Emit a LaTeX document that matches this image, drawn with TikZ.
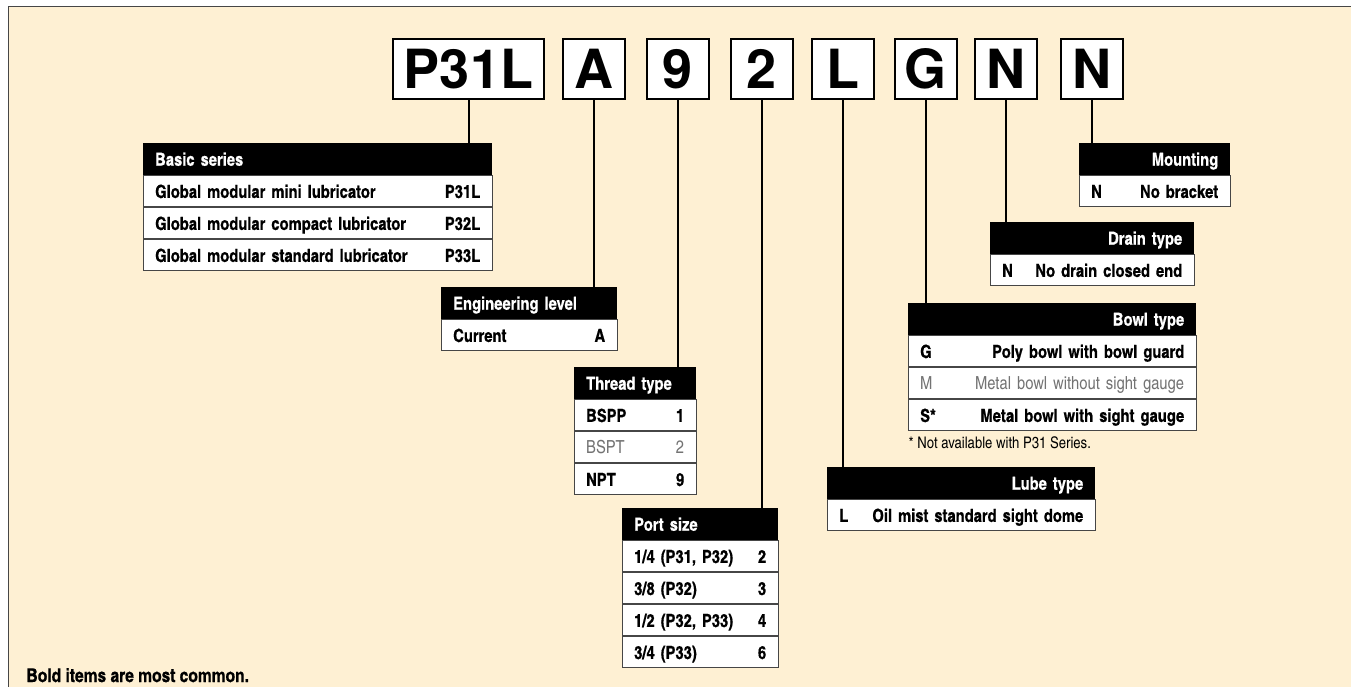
\documentclass[tikz,border=0pt]{standalone}
\usepackage{fontspec}
\setmainfont{TeX Gyre Heros}
\newfontfamily\cnfont[BoldFeatures={FakeBold=0.6}]{TeX Gyre Heros Cn}
\usetikzlibrary{positioning}
\definecolor{panel}{RGB}{254,240,211}
\definecolor{rule}{RGB}{70,70,70}
\definecolor{faint}{RGB}{115,115,115}
\begin{document}
\begin{tikzpicture}[x=1pt,y=-1pt,
    codebox/.style={draw,line width=2pt,fill=white,inner sep=0pt,
      minimum width=62pt,minimum height=60pt,
      font=\fontsize{54}{54}\selectfont\bfseries},
    link/.style={line width=2pt},
    thead/.style={fill=black,text=white,inner xsep=12pt,inner ysep=0pt,
      minimum height=32pt,text width=#1,text height=13pt,text depth=0pt,
      align=left,font=\cnfont\bfseries\fontsize{18}{21}\selectfont},
    trow/.style={draw=rule,line width=1pt,fill=white,inner xsep=12pt,
      inner ysep=0pt,minimum height=31pt,text width=#1,text height=13pt,
      text depth=0pt,align=left,font=\cnfont\bfseries\fontsize{18}{21}\selectfont},
    minor/.style={text=faint,font=\cnfont\fontsize{18}{21}\selectfont}]
    \useasboundingbox (0,0) rectangle (1351,687);
    \fill[white] (0,0) rectangle (1351,687);
    \fill[panel] (8,7) rectangle (1351,687);
    \draw[rule,line width=1pt] (8,687) -- (8,7) -- (1351,7);
    % order code
    \node[codebox,minimum width=151pt] (cP) at (468.5,69) {P31L};
    \node[codebox] (cA) at (594,69) {A};
    \node[codebox] (c9) at (678,69) {9};
    \node[codebox] (c2) at (762,69) {2};
    \node[codebox] (cL) at (843,69) {L};
    \node[codebox] (cG) at (925.5,69) {G};
    \node[codebox] (cD) at (1006,69) {N};
    \node[codebox] (cM) at (1092,69) {N};
    % left tables
    \node[thead=325pt,anchor=north west] (basic) at (143,143) {Basic series};
    \node[trow=325pt,below=0pt of basic] (basic1)
        {Global modular mini lubricator\hfill P31L};
    \node[trow=325pt,below=0pt of basic1] (basic2)
        {Global modular compact lubricator\hfill P32L};
    \node[trow=325pt,below=0pt of basic2] (basic3)
        {Global modular standard lubricator\hfill P33L};
    \node[thead=152pt,anchor=north west] (eng) at (441,287) {Engineering level};
    \node[trow=152pt,below=0pt of eng] (eng1) {Current\hfill A};
    \node[thead=98pt,anchor=north west] (thread) at (574,367) {Thread type};
    \node[trow=98pt,below=0pt of thread] (thread1) {BSPP\hfill 1};
    \node[trow=98pt,minor,below=0pt of thread1] (thread2) {BSPT\hfill 2};
    \node[trow=98pt,below=0pt of thread2] (thread3) {NPT\hfill 9};
    \node[thead=132pt,anchor=north west] (port) at (622,508) {Port size};
    \node[trow=132pt,below=0pt of port] (port1) {1/4 (P31, P32)\hfill 2};
    \node[trow=132pt,below=0pt of port1] (port2) {3/8 (P32)\hfill 3};
    \node[trow=132pt,below=0pt of port2] (port3) {1/2 (P32, P33)\hfill 4};
    \node[trow=132pt,below=0pt of port3] (port4) {3/4 (P33)\hfill 6};
    % right tables
    \node[thead=244pt,align=right,anchor=north west] (lube) at (827,467) {Lube type};
    \node[trow=244pt,below=0pt of lube] (lube1)
        {L\hfill Oil mist standard sight dome};
    \node[thead=264pt,align=right,anchor=north west] (bowl) at (908,303) {Bowl type};
    \node[trow=264pt,below=0pt of bowl] (bowl1) {G\hfill Poly bowl with bowl guard};
    \node[trow=264pt,minor,below=0pt of bowl1] (bowl2)
        {M\hfill Metal bowl without sight gauge};
    \node[trow=264pt,below=0pt of bowl2] (bowl3) {S*\hfill Metal bowl with sight gauge};
    \node[anchor=west,font=\cnfont\fontsize{16}{18}\selectfont] (star) at (905,443)
        {* Not available with P31 Series.};
    \node[thead=180pt,align=right,anchor=north west] (drain) at (990,222) {Drain type};
    \node[trow=180pt,below=0pt of drain] (drain1) {N\hfill No drain closed end};
    \node[thead=127pt,align=right,anchor=north west] (mount) at (1079,143) {Mounting};
    \node[trow=127pt,below=0pt of mount] (mount1) {N\hfill No bracket};
    % connectors
    \draw[link] (cP.south) -- (cP.south |- basic.north);
    \draw[link] (cA.south) -- (cA.south |- eng.north);
    \draw[link] (c9.south) -- (c9.south |- thread.north);
    \draw[link] (c2.south) -- (c2.south |- port.north);
    \draw[link] (cL.south) -- (cL.south |- lube.north);
    \draw[link] (cG.south) -- (cG.south |- bowl.north);
    \draw[link] (cD.south) -- (cD.south |- drain.north);
    \draw[link] (cM.south) -- (cM.south |- mount.north);
    \node[anchor=base west,font=\cnfont\bfseries\fontsize{19}{22}\selectfont]
        (common) at (23,682) {Bold items are most common.};
\end{tikzpicture}
\end{document}
